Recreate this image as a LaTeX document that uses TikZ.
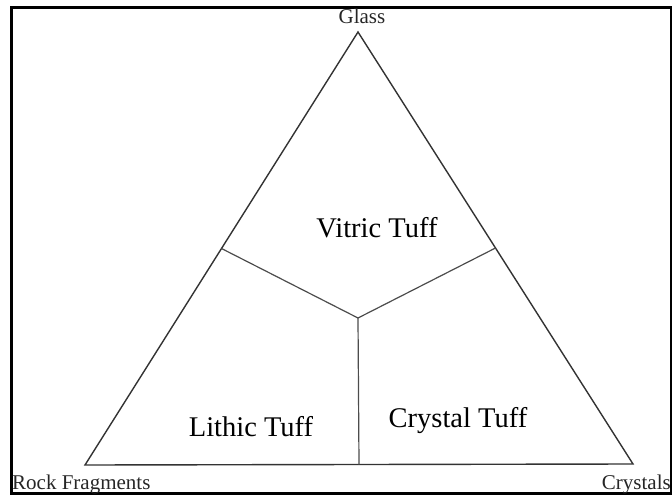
\documentclass[tikz,border=0pt]{standalone}
\usepackage{fontspec}
\setmainfont{Liberation Serif}
\usetikzlibrary{calc}
\tikzset{
  pole/.style={inner sep=0pt,text=black!85,font=\fontsize{21}{23}\selectfont},
  champ/.style={inner sep=0pt,font=\fontsize{28.5}{30}\selectfont},
  cote/.style={line width=1.4pt,black!80,line join=miter},
  limite/.style={line width=1.2pt,black!70}
}
\begin{document}
\begin{tikzpicture}[x=1pt,y=-1pt]
  \useasboundingbox (0,0) rectangle (672,495);
  % Cadre
  \draw[line width=3pt] (11.5,7.5) rectangle (671,493.5);

  % Triangle : verre en haut, fragments et cristaux en bas
  \coordinate (apex) at (358,32);
  \coordinate (rf) at (85,465);
  \coordinate (cr) at (633,464);
  \draw[cote] (apex) -- (rf) -- (cr) -- cycle;

  % Limites des champs : du centre vers les milieux des cotes
  \coordinate (centre) at (358,318);
  \draw[limite] (centre) -- ($(apex)!0.5!(rf)$);
  \draw[limite] (centre) -- ($(apex)!0.5!(cr)$);
  \draw[limite] (centre) -- ($(rf)!0.5!(cr)$);

  % Poles
  \node[pole] (glass) at (362,16) {Glass};
  \node[pole,anchor=base west] (rock) at (12,489) {Rock Fragments};
  \node[pole,anchor=base east] (crystals) at (671,489) {Crystals};

  % Champs
  \node[champ] (vitric) at (377,228) {Vitric Tuff};
  \node[champ] (lithic) at (251,427) {Lithic Tuff};
  \node[champ] (crystal) at (458,421) {Crystal Tuff};
\end{tikzpicture}
\end{document}
